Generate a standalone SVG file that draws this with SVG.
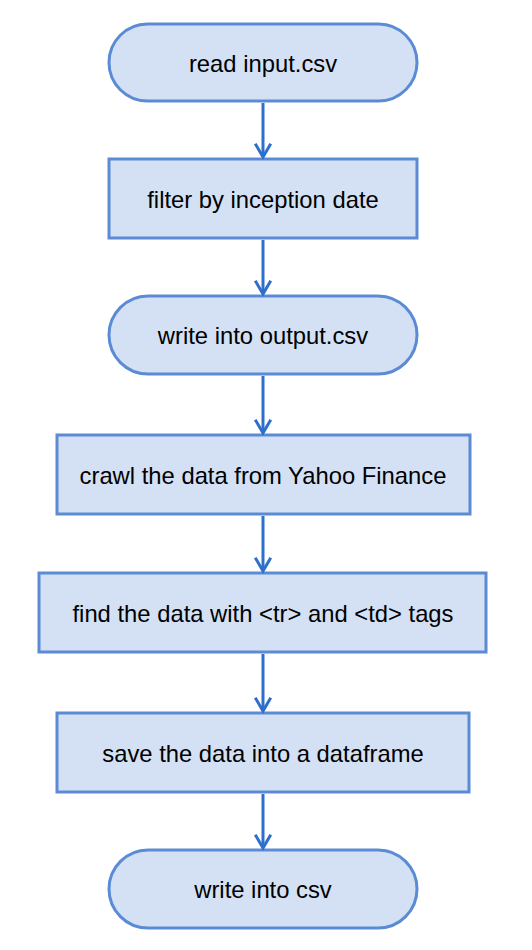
<svg xmlns="http://www.w3.org/2000/svg" width="532" height="950" viewBox="0 0 532 950">
<style>
.n{fill:#d4e1f4;stroke:#5a8bd4;stroke-width:3}
.t{font-family:"Liberation Sans",Arial,sans-serif;font-size:23.8px;fill:#000;text-anchor:middle;dominant-baseline:central}
.c{stroke:#2f6fcc;stroke-width:3;fill:none}
.h{stroke:#2f6fcc;stroke-width:3;fill:none;stroke-linecap:square}
</style>
<rect width="532" height="950" fill="#ffffff"/>
<g id="n1"><rect class="n" x="109" y="24" width="308" height="77" rx="38.5"/><text class="t" x="263" y="63">read input.csv</text></g>
<g id="n2"><rect class="n" x="109" y="159" width="308" height="79"/><text class="t" x="263" y="199">filter by inception date</text></g>
<g id="n3"><rect class="n" x="109" y="296" width="308" height="78" rx="39"/><text class="t" x="263" y="335">write into output.csv</text></g>
<g id="n4"><rect class="n" x="57" y="435" width="413" height="79"/><text class="t" x="263" y="475">crawl the data from Yahoo Finance</text></g>
<g id="n5"><rect class="n" x="39" y="573" width="447" height="79"/><text class="t" x="263" y="613">find the data with &lt;tr&gt; and &lt;td&gt; tags</text></g>
<g id="n6"><rect class="n" x="57" y="713" width="412" height="79"/><text class="t" x="263" y="753">save the data into a dataframe</text></g>
<g id="n7"><rect class="n" x="109" y="850" width="308" height="78" rx="39"/><text class="t" x="263" y="889">write into csv</text></g>
<g id="connectors">
<path class="c" d="M263 103V157"/><path class="h" d="M256 145L263 157L270 145"/>
<path class="c" d="M263 240V294"/><path class="h" d="M256 282L263 294L270 282"/>
<path class="c" d="M263 376V433"/><path class="h" d="M256 421L263 433L270 421"/>
<path class="c" d="M263 516V571"/><path class="h" d="M256 559L263 571L270 559"/>
<path class="c" d="M263 654V711"/><path class="h" d="M256 699L263 711L270 699"/>
<path class="c" d="M263 794V848"/><path class="h" d="M256 836L263 848L270 836"/>
</g>
</svg>
